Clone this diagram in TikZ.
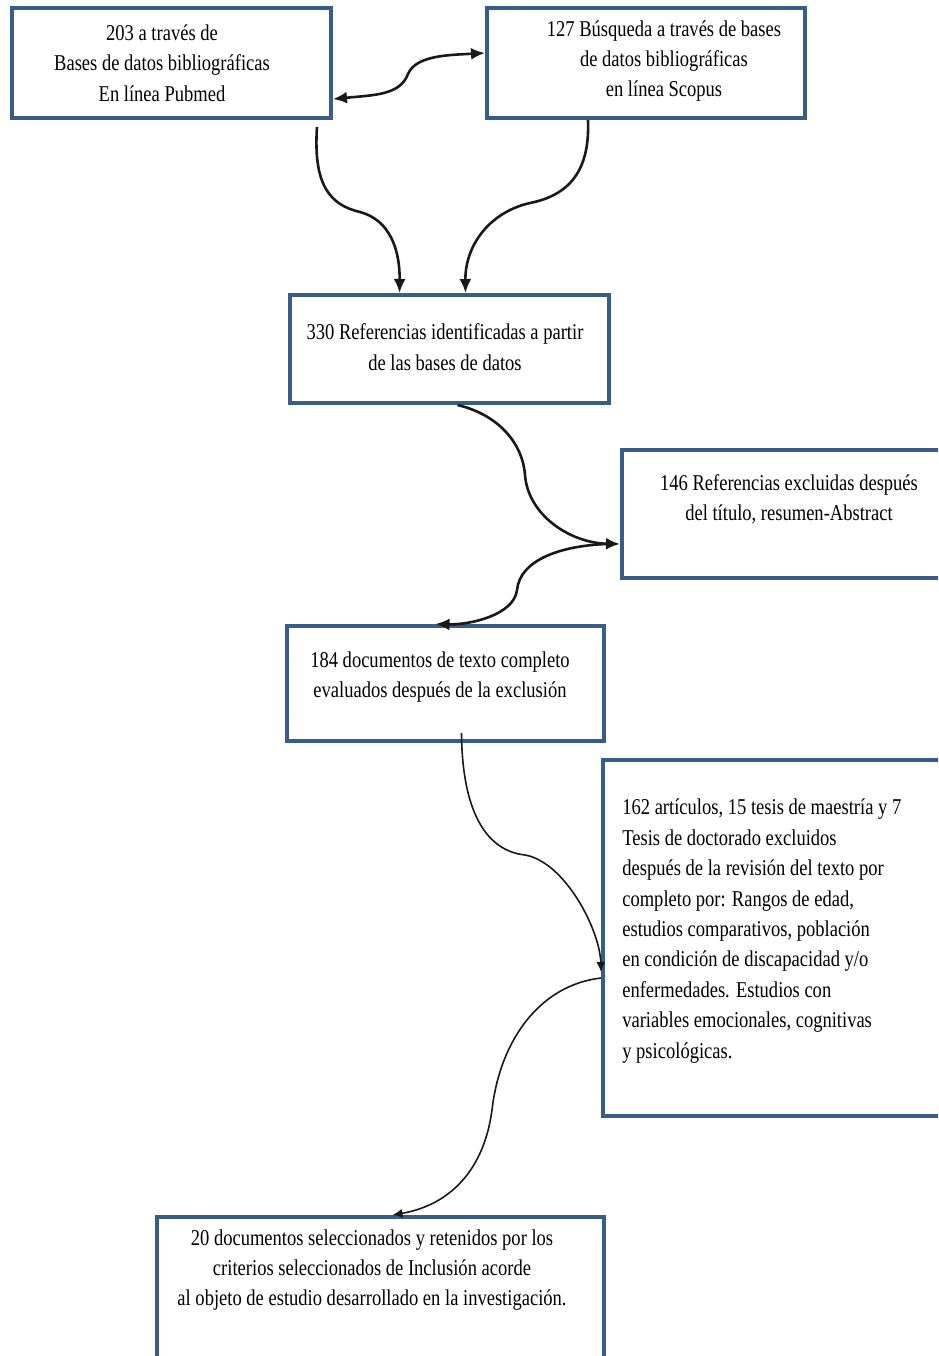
\documentclass[tikz,border=0pt]{standalone}
\usepackage{fontspec}
\setmainfont{Liberation Serif}
\usepackage{xcolor}
\usetikzlibrary{arrows.meta}
\definecolor{boxblue}{RGB}{56,93,138}
\definecolor{linkgray}{RGB}{25,25,25}

\begin{document}
\begin{tikzpicture}[x=0.5pt, y=-0.5pt,
  box/.style={draw=boxblue, line width=2pt, inner sep=0pt},
  txt/.style={font=\fontsize{11.3}{15.2}\selectfont, align=center, inner sep=0pt, xscale=0.82, transform shape},
  link/.style={draw=linkgray, line width=1.3pt, -{Latex[length=7pt,width=6pt]}},
  thinlink/.style={link, line width=0.8pt, -{Latex[length=5pt,width=4.5pt]}}]
\useasboundingbox (0,0) rectangle (938,1356);
\clip (0,0) rectangle (938,1356);
% Boxes
\node[box, minimum width=159.5pt, minimum height=55pt] (pub) at (171.5,63) {};
\node[box, minimum width=159pt, minimum height=55pt] (scop) at (646,63) {};
\node[box, minimum width=159.5pt, minimum height=54pt] (ref) at (449.5,349) {};
\node[box, minimum width=169pt, minimum height=64pt] (excl) at (791,514) {};
\node[box, minimum width=158.5pt, minimum height=57.5pt] (doc) at (445.5,683.5) {};
\node[box, minimum width=178.5pt, minimum height=178pt] (rev) at (781.5,938) {};
\node[box, minimum width=223.5pt, minimum height=91.5pt] (sel) at (380.5,1308.5) {};
% Texts
\node[txt] (pubtxt) at (162,63) {203 a través de\\Bases de datos bibliográficas\\En línea Pubmed};
\node[txt] (scoptxt) at (664,61) {127 Búsqueda a través de bases\\de datos bibliográficas\\en línea Scopus};
\node[txt] (reftxt) at (445,347) {330 Referencias identificadas a partir\\de las bases de datos};
\node[txt] (excltxt) at (789,499) {146 Referencias excluidas después\\del título, resumen-Abstract};
\node[txt] (doctxt) at (440,677) {184 documentos de texto completo\\evaluados después de la exclusión};
\node[txt, align=left, anchor=west] (revtxt) at (622,931) {162 artículos, 15 tesis de maestría y 7\\Tesis de doctorado excluidos\\después de la revisión del texto por\\completo por: Rangos de edad,\\estudios comparativos, población\\en condición de discapacidad y/o\\enfermedades. Estudios con\\variables emocionales, cognitivas\\y psicológicas.};
\node[txt] (seltxt) at (372,1270) {20 documentos seleccionados y retenidos por los\\criterios seleccionados de Inclusión acorde\\al objeto de estudio desarrollado en la investigación.};
% Links
\draw[link, {Latex[length=7pt,width=6pt]}-{Latex[length=7pt,width=6pt]}] ([yshift=-18pt]pub.east) .. controls (375,95) and (400,95) .. (408,74) .. controls (416,55) and (450,55) .. ([yshift=5pt]scop.west);
\draw[link] ([xshift=-8pt,yshift=-3.5pt]pub.south east) .. controls (313,185) and (330,205) .. (360,212) .. controls (390,220) and (400,250) .. ([xshift=-25pt]ref.north);
\draw[link] ([xshift=-29pt]scop.south) .. controls (590,170) and (570,195) .. (530,203) .. controls (490,212) and (465,245) .. ([xshift=8pt]ref.north);
\draw[link] ([xshift=4pt]ref.south) .. controls (500,415) and (523,445) .. (525,475) .. controls (528,515) and (570,543) .. ([yshift=-15pt]excl.west);
\draw[link] ([xshift=-7pt,yshift=-15pt]excl.west) .. controls (560,546) and (520,560) .. (517,590) .. controls (514,615) and (470,625) .. ([xshift=-5pt]doc.north);
\draw[thinlink] ([xshift=8pt,yshift=5pt]doc.south) .. controls (462,800) and (480,850) .. (525,855) .. controls (565,862) and (600,930) .. ([yshift=-17pt]rev.west);
\draw[thinlink] ([yshift=-20pt]rev.west) .. controls (540,985) and (500,1040) .. (492,1110) .. controls (484,1170) and (450,1205) .. ([xshift=6pt]sel.north);
\end{tikzpicture}
\end{document}
